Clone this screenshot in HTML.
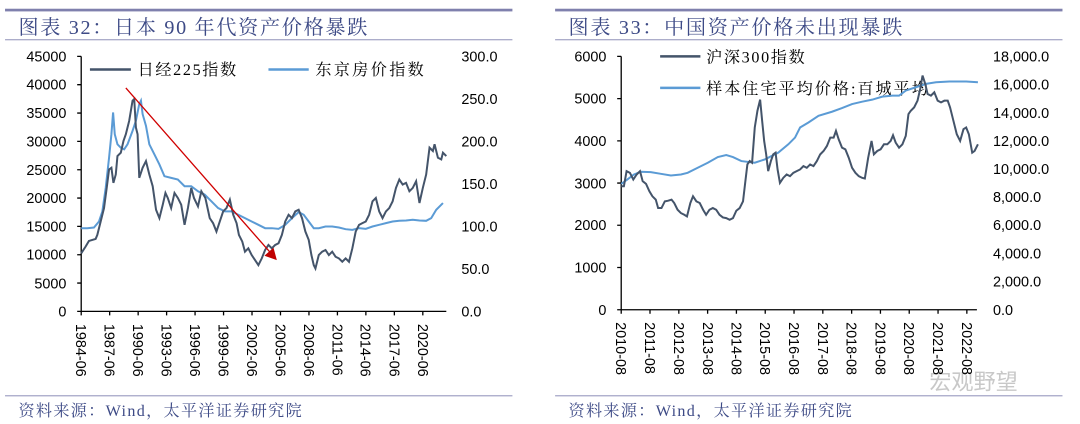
<!DOCTYPE html>
<html><head><meta charset="utf-8"><style>
html,body{margin:0;padding:0;background:#fff;}
svg{display:block;}
.t{font-family:"Liberation Serif","Noto Serif CJK SC",serif;fill:#3d4a86;}
.a{font-family:"Liberation Sans","Noto Sans CJK SC",sans-serif;fill:#000;}
.l{font-family:"Liberation Serif","Noto Serif CJK SC",serif;fill:#000;}
.s{fill:none;vector-effect:non-scaling-stroke;}
</style></head><body>
<svg width="1080" height="424" viewBox="0 0 1080 424" xmlns="http://www.w3.org/2000/svg">
<g transform="scale(0.33557)">
  <rect x="15" y="26" width="1512" height="8" fill="#7f80ad"/>
  <rect x="15" y="117" width="1512" height="3" fill="#8f90b8"/>
  <text class="t" x="55" y="102" font-size="60" letter-spacing="5">图表 32：日本 90 年代资产价格暴跌</text>
  <rect x="15" y="1178" width="1512" height="3" fill="#8f90b8"/>
  <text class="t" x="55" y="1240" font-size="48" letter-spacing="4">资料来源：Wind，太平洋证券研究院</text>
  <path class="s" stroke="#000" stroke-width="1.3" d="M242,168V928H1330 M230,168H242 M230,252.4H242 M230,336.9H242 M230,421.3H242 M230,505.8H242 M230,590.2H242 M230,674.7H242 M230,759.1H242 M230,843.6H242 M230,928H242"/>
  <path class="s" stroke="#000" stroke-width="1.3" d="M242,928v12 M326.8,928v12 M411.7,928v12 M496.5,928v12 M581.3,928v12 M666.2,928v12 M751,928v12 M835.8,928v12 M920.7,928v12 M1005.5,928v12 M1090.3,928v12 M1175.2,928v12 M1260,928v12"/>
  <g class="a" font-size="43" text-anchor="end">
    <text x="198" y="183">45000</text><text x="198" y="267">40000</text><text x="198" y="352">35000</text><text x="198" y="436">30000</text><text x="198" y="521">25000</text><text x="198" y="605">20000</text><text x="198" y="690">15000</text><text x="198" y="774">10000</text><text x="198" y="859">5000</text><text x="198" y="943">0</text>
  </g>
  <g class="a" font-size="43">
    <text x="1375" y="183">300.0</text><text x="1375" y="310">250.0</text><text x="1375" y="436">200.0</text><text x="1375" y="563">150.0</text><text x="1375" y="690">100.0</text><text x="1375" y="816">50.0</text><text x="1375" y="943">0.0</text>
  </g>
  <g class="a" font-size="43">
    <text transform="translate(227,965) rotate(90)">1984-06</text>
    <text transform="translate(312,965) rotate(90)">1987-06</text>
    <text transform="translate(397,965) rotate(90)">1990-06</text>
    <text transform="translate(482,965) rotate(90)">1993-06</text>
    <text transform="translate(566,965) rotate(90)">1996-06</text>
    <text transform="translate(651,965) rotate(90)">1999-06</text>
    <text transform="translate(736,965) rotate(90)">2002-06</text>
    <text transform="translate(821,965) rotate(90)">2005-06</text>
    <text transform="translate(906,965) rotate(90)">2008-06</text>
    <text transform="translate(991,965) rotate(90)">2011-06</text>
    <text transform="translate(1075,965) rotate(90)">2014-06</text>
    <text transform="translate(1160,965) rotate(90)">2017-06</text>
    <text transform="translate(1245,965) rotate(90)">2020-06</text>
  </g>
  <path class="s" stroke="#44546a" stroke-width="2.5" d="M268,207H390"/>
  <text class="l" x="410" y="224" font-size="48" letter-spacing="5">日经225指数</text>
  <path class="s" stroke="#5b9bd5" stroke-width="2.5" d="M800,207H920"/>
  <text class="l" x="940" y="224" font-size="48" letter-spacing="7">东京房价指数</text>
  <polyline class="s" stroke="#5b9bd5" stroke-width="2" points="242,680 260,680 280,678 295,660 305,630 315,560 325,470 332,400 337,335 342,400 350,430 360,440 370,445 380,430 395,390 405,360 415,310 420,300 425,340 435,375 445,430 460,460 475,490 490,525 510,530 530,535 550,555 570,555 590,570 610,580 630,600 650,620 670,630 690,630 710,640 730,650 750,660 770,670 790,680 810,680 830,682 850,670 870,650 890,632 905,640 920,660 935,680 950,680 970,675 990,675 1010,678 1030,683 1050,685 1070,680 1090,682 1110,675 1130,670 1150,665 1170,660 1190,658 1210,657 1230,655 1250,657 1270,658 1285,650 1300,625 1320,605"/>
  <polyline class="s" stroke="#44546a" stroke-width="2" points="242,755 255,735 265,718 285,712 290,700 300,660 310,620 318,560 325,505 332,500 338,545 345,520 350,465 360,455 368,420 375,400 385,360 395,300 400,295 405,380 410,400 415,530 425,500 435,480 445,520 455,555 465,625 475,650 485,610 493,575 500,590 510,620 520,575 530,590 540,610 550,670 560,620 570,560 578,590 590,615 600,570 612,590 625,650 635,665 645,690 655,660 665,630 675,620 685,595 695,640 705,665 712,700 722,720 730,750 740,740 750,760 760,775 770,790 780,770 790,745 800,730 810,740 820,730 830,725 840,700 850,660 860,640 870,650 880,630 890,625 900,650 910,690 920,715 928,760 935,790 940,800 950,760 960,750 970,745 980,760 990,750 1000,765 1010,770 1020,780 1030,770 1040,780 1050,740 1060,690 1070,670 1080,665 1090,660 1100,640 1110,600 1120,590 1130,630 1140,650 1150,630 1160,620 1170,600 1180,560 1190,535 1200,550 1210,545 1220,570 1230,560 1240,540 1250,605 1260,560 1270,520 1280,440 1290,450 1295,430 1305,470 1315,475 1320,455 1330,465"/>
  <path class="s" stroke="#d00000" stroke-width="1.3" d="M375,262L805,752"/>
  <polygon points="825,775 788,762 815,738" fill="#c00000"/>
</g>
<g transform="translate(540,0) scale(0.33557)">
  <rect x="45" y="26" width="1512" height="8" fill="#7f80ad"/>
  <rect x="45" y="117" width="1512" height="3" fill="#8f90b8"/>
  <text class="t" x="85" y="102" font-size="60" letter-spacing="5">图表 33：中国资产价格未出现暴跌</text>
  <rect x="45" y="1178" width="1512" height="3" fill="#8f90b8"/>
  <text class="t" x="85" y="1240" font-size="48" letter-spacing="4">资料来源：Wind，太平洋证券研究院</text>
  <text x="1160" y="1160" font-size="66" fill="#c8c8c8" font-family="'Noto Sans CJK SC',sans-serif">宏观野望</text>
  <path class="s" stroke="#000" stroke-width="1.3" d="M242,168V923H1302 M230,168H242 M230,293.8H242 M230,419.7H242 M230,545.5H242 M230,671.3H242 M230,797.2H242 M230,923H242"/>
  <path class="s" stroke="#000" stroke-width="1.3" d="M242,923v12 M327.8,923v12 M413.7,923v12 M499.5,923v12 M585.3,923v12 M671.2,923v12 M757,923v12 M842.8,923v12 M928.7,923v12 M1014.5,923v12 M1100.3,923v12 M1186.2,923v12 M1272,923v12"/>
  <g class="a" font-size="43" text-anchor="end">
    <text x="198" y="183">6000</text><text x="198" y="309">5000</text><text x="198" y="435">4000</text><text x="198" y="561">3000</text><text x="198" y="686">2000</text><text x="198" y="812">1000</text><text x="198" y="938">0</text>
  </g>
  <g class="a" font-size="43">
    <text x="1350" y="183">18,000.0</text><text x="1350" y="267">16,000.0</text><text x="1350" y="351">14,000.0</text><text x="1350" y="435">12,000.0</text><text x="1350" y="519">10,000.0</text><text x="1350" y="602">8,000.0</text><text x="1350" y="686">6,000.0</text><text x="1350" y="770">4,000.0</text><text x="1350" y="854">2,000.0</text><text x="1350" y="938">0.0</text>
  </g>
  <g class="a" font-size="43">
    <text transform="translate(227,960) rotate(90)">2010-08</text>
    <text transform="translate(313,960) rotate(90)">2011-08</text>
    <text transform="translate(399,960) rotate(90)">2012-08</text>
    <text transform="translate(485,960) rotate(90)">2013-08</text>
    <text transform="translate(570,960) rotate(90)">2014-08</text>
    <text transform="translate(656,960) rotate(90)">2015-08</text>
    <text transform="translate(742,960) rotate(90)">2016-08</text>
    <text transform="translate(828,960) rotate(90)">2017-08</text>
    <text transform="translate(914,960) rotate(90)">2018-08</text>
    <text transform="translate(1000,960) rotate(90)">2019-08</text>
    <text transform="translate(1085,960) rotate(90)">2020-08</text>
    <text transform="translate(1171,960) rotate(90)">2021-08</text>
    <text transform="translate(1257,960) rotate(90)">2022-08</text>
  </g>
  <path class="s" stroke="#44546a" stroke-width="2.5" d="M358,168H478"/>
  <text class="l" x="495" y="186" font-size="48" letter-spacing="5">沪深300指数</text>
  <path class="s" stroke="#5b9bd5" stroke-width="2.5" d="M358,262H478"/>
  <text class="l" x="495" y="280" font-size="48" letter-spacing="6">样本住宅平均价格:百城平均</text>
  <polyline class="s" stroke="#5b9bd5" stroke-width="2" points="242,548 260,535 280,520 300,512 330,513 360,518 390,523 420,520 440,515 470,500 500,485 530,468 555,462 575,468 600,480 640,485 670,475 710,455 740,430 760,410 775,380 800,365 830,345 870,333 900,322 930,310 960,303 990,297 1020,288 1050,285 1070,285 1090,270 1120,260 1150,250 1180,245 1220,243 1270,243 1305,245"/>
  <polyline class="s" stroke="#44546a" stroke-width="2" points="242,555 250,555 258,510 268,515 278,535 288,520 298,510 306,540 316,548 326,570 335,585 345,595 352,620 362,620 372,600 382,598 392,595 400,605 410,625 420,635 430,640 438,645 448,605 456,585 466,600 476,605 486,625 495,640 505,625 515,620 525,625 535,640 545,648 555,650 565,655 575,650 585,628 595,620 605,600 612,540 618,490 625,480 632,485 640,380 648,330 656,297 662,360 668,420 674,460 680,510 688,480 695,460 702,455 708,505 715,545 725,530 735,520 745,525 755,515 765,510 775,505 785,495 795,500 805,490 815,495 825,480 835,460 845,450 855,435 865,410 875,410 882,390 890,415 900,440 910,445 920,470 930,500 940,515 950,525 960,530 968,532 978,470 988,420 995,460 1005,450 1015,445 1025,430 1035,430 1045,420 1052,403 1060,425 1070,440 1080,430 1090,405 1098,340 1105,330 1115,320 1125,300 1133,265 1140,225 1148,250 1155,280 1165,285 1175,275 1185,300 1195,305 1205,300 1215,300 1222,320 1232,360 1242,400 1252,420 1262,385 1270,380 1278,400 1288,455 1295,450 1305,430"/>
</g>
</svg>
</body></html>
